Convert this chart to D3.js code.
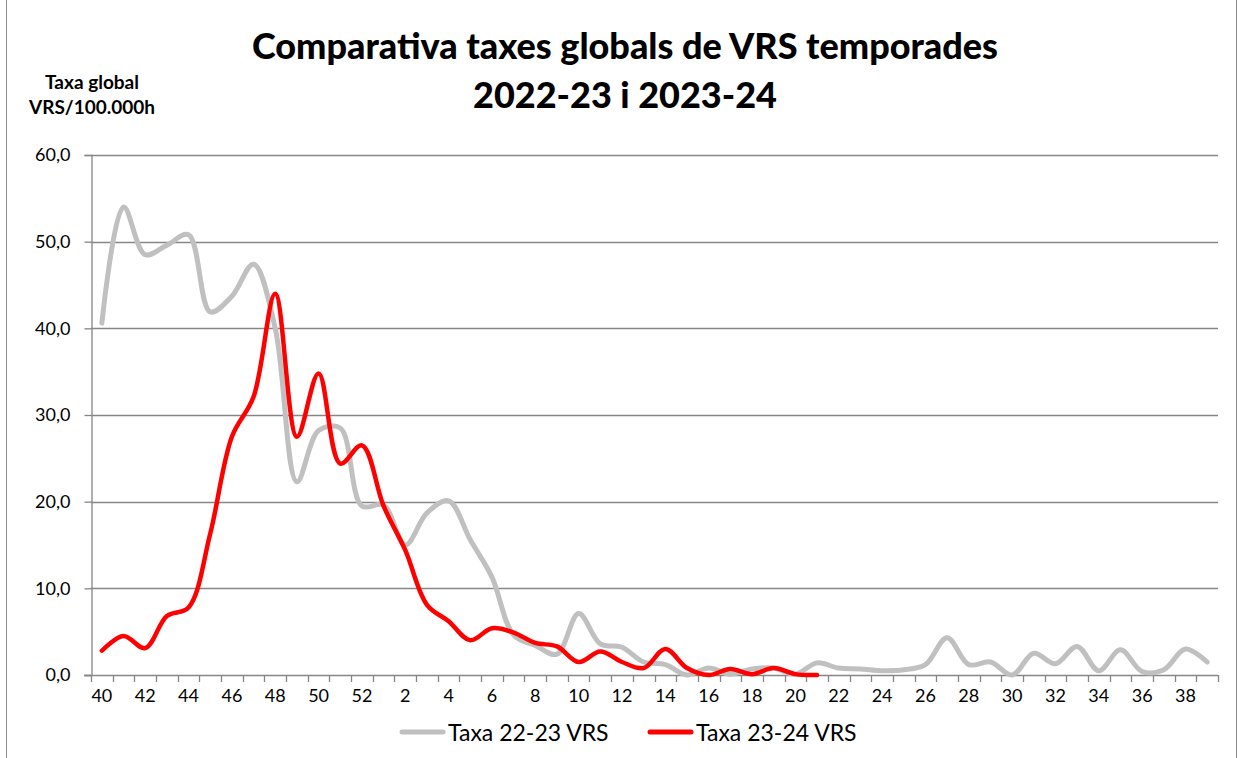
<!DOCTYPE html>
<html>
<head>
<meta charset="utf-8">
<title>Comparativa taxes globals de VRS</title>
<script src="https://cdn.jsdelivr.net/npm/d3@7"></script>
<style>
  body { margin: 0; background: #fff; }
  text { font-family: Lato, "Open Sans", sans-serif; fill: #000; }
</style>
</head>
<body>
<svg id="chart" width="1238" height="758"></svg>
<script>
// epidemiological weeks, season runs from week 40 to week 39
const weeks = [40, 41, 42, 43, 44, 45, 46, 47, 48, 49, 50, 51, 52,
  1, 2, 3, 4, 5, 6, 7, 8, 9, 10, 11, 12, 13, 14, 15, 16, 17, 18, 19, 20,
  21, 22, 23, 24, 25, 26, 27, 28, 29, 30, 31, 32, 33, 34, 35, 36, 37, 38, 39];

const tickWeeks = weeks.filter(w => w % 2 === 0);
const yTicks = [0, 10, 20, 30, 40, 50, 60];

// Taxa 22-23 VRS (all weeks)
const taxa2223 = [40.6, 54.0, 48.5, 49.6, 50.8, 41.9, 43.7, 47.4, 40.0, 22.3, 28.2, 28.5, 19.5,
  19.6, 15.0, 18.7, 20.1, 15.6, 11.3, 4.6, 3.4, 2.4, 7.1, 3.6, 3.2, 1.5, 1.2, 0.0, 0.8, 0.1, 0.7, 0.8, 0.1,
  1.4, 0.8, 0.7, 0.5, 0.6, 1.2, 4.3, 1.2, 1.5, 0.0, 2.5, 1.3, 3.3, 0.5, 2.9, 0.4, 0.6, 3.0, 1.5];

// Taxa 23-24 VRS (week 40 to week 21)
const taxa2324 = [2.8, 4.5, 3.1, 6.8, 7.8, 16.3, 27.5, 32.1, 44.0, 27.5, 34.8, 24.4, 26.5,
  19.5, 14.4, 8.1, 6.2, 4.0, 5.4, 4.9, 3.7, 3.3, 1.5, 2.7, 1.5, 0.8, 3.0, 0.8, 0.0, 0.7, 0.1, 0.8, 0.1, 0.0];

const seriesNames = ["Taxa 22-23 VRS", "Taxa 23-24 VRS"];
const seriesColors = ["#c0c0c0", "#ff0000"];

const svg = d3.select("#chart");
const W = 1238, H = 758;
const margin = { left: 91, right: 20, top: 155, bottom: 83 };

// outer chart border
svg.append("rect")
  .attr("x", 6.5).attr("y", -1)
  .attr("width", W - 8).attr("height", H + 2)
  .attr("fill", "none").attr("stroke", "#8c8c8c").attr("stroke-width", 1);

const x = d3.scaleBand()
  .domain(weeks)
  .range([margin.left, W - margin.right])
  .padding(0);

const y = d3.scaleLinear()
  .domain([0, 60])
  .range([H - margin.bottom, margin.top]);

const cx = w => x(w) + x.bandwidth() / 2;
const axisColor = "#868686";

// horizontal gridlines
svg.append("g")
  .selectAll("line")
  .data(yTicks.filter(d => d > 0))
  .join("line")
  .attr("x1", margin.left).attr("x2", W - margin.right)
  .attr("y1", d => Math.round(y(d)) + 0.5).attr("y2", d => Math.round(y(d)) + 0.5)
  .attr("stroke", axisColor).attr("stroke-width", 1.3);

// y axis
const yAxis = svg.append("g")
  .attr("transform", `translate(${margin.left + 0.5},0)`)
  .call(d3.axisLeft(y).tickValues(yTicks).tickSize(7).tickPadding(14)
    .tickFormat(d => d3.format(".1f")(d).replace(".", ",")));
yAxis.select(".domain").attr("stroke", axisColor).attr("stroke-width", 1.3);
yAxis.selectAll(".tick line").attr("stroke", axisColor).attr("stroke-width", 1.3);
yAxis.selectAll(".tick text").attr("font-size", 18).attr("font-family", "Lato");

// x axis: labels centred in the category, ticks on category boundaries
const xAxis = svg.append("g")
  .attr("transform", `translate(0,${y(0) + 0.5})`)
  .call(d3.axisBottom(x).tickValues(tickWeeks).tickSize(0).tickPadding(14));
xAxis.select(".domain").remove();
xAxis.selectAll(".tick text").attr("font-size", 18).attr("font-family", "Lato");

const boundaries = weeks.map(w => x(w)).concat([x.range()[1]]);
svg.append("g")
  .selectAll("line")
  .data(boundaries)
  .join("line")
  .attr("x1", d => Math.round(d) + 0.5).attr("x2", d => Math.round(d) + 0.5)
  .attr("y1", y(0)).attr("y2", y(0) + 7)
  .attr("stroke", axisColor).attr("stroke-width", 1.3);
svg.append("line")
  .attr("x1", margin.left - 7).attr("x2", W - margin.right)
  .attr("y1", y(0) + 0.5).attr("y2", y(0) + 0.5)
  .attr("stroke", axisColor).attr("stroke-width", 1.3);

// series lines
const line = d3.line()
  .x(d => cx(d.week))
  .y(d => y(d.value))
  .curve(d3.curveCatmullRom.alpha(0.5));

const series = [taxa2223, taxa2324].map((vals, i) => ({
  name: seriesNames[i],
  color: seriesColors[i],
  points: vals.map((v, j) => ({ week: weeks[j], value: v }))
}));

svg.append("g")
  .selectAll("path")
  .data(series)
  .join("path")
  .attr("d", d => line(d.points))
  .attr("fill", "none")
  .attr("stroke", d => d.color)
  .attr("stroke-width", (d, i) => i === 0 ? 5 : 4.5)
  .attr("stroke-linejoin", "round")
  .attr("stroke-linecap", "round");

// title
const title = svg.append("text")
  .attr("text-anchor", "middle")
  .attr("font-size", 36)
  .attr("font-weight", 900);
title.append("tspan").attr("x", 625).attr("y", 59).text("Comparativa taxes globals de VRS temporades");
title.append("tspan").attr("x", 625).attr("y", 108).text("2022-23 i 2023-24");

// y axis title
const yTitle = svg.append("text")
  .attr("text-anchor", "middle")
  .attr("font-size", 19)
  .attr("font-weight", "bold");
yTitle.append("tspan").attr("x", 92).attr("y", 89).text("Taxa global");
yTitle.append("tspan").attr("x", 92).attr("y", 114).text("VRS/100.000h");

// legend
const legend = svg.append("g")
  .selectAll("g")
  .data(series)
  .join("g")
  .attr("transform", (d, i) => `translate(${402 + i * 248},732)`);
legend.append("line")
  .attr("x1", 0).attr("x2", 41)
  .attr("stroke", d => d.color)
  .attr("stroke-width", 5)
  .attr("stroke-linecap", "round");
legend.append("text")
  .attr("x", 46).attr("y", 8.5)
  .attr("font-size", 23)
  .text(d => d.name);
</script>
</body>
</html>
